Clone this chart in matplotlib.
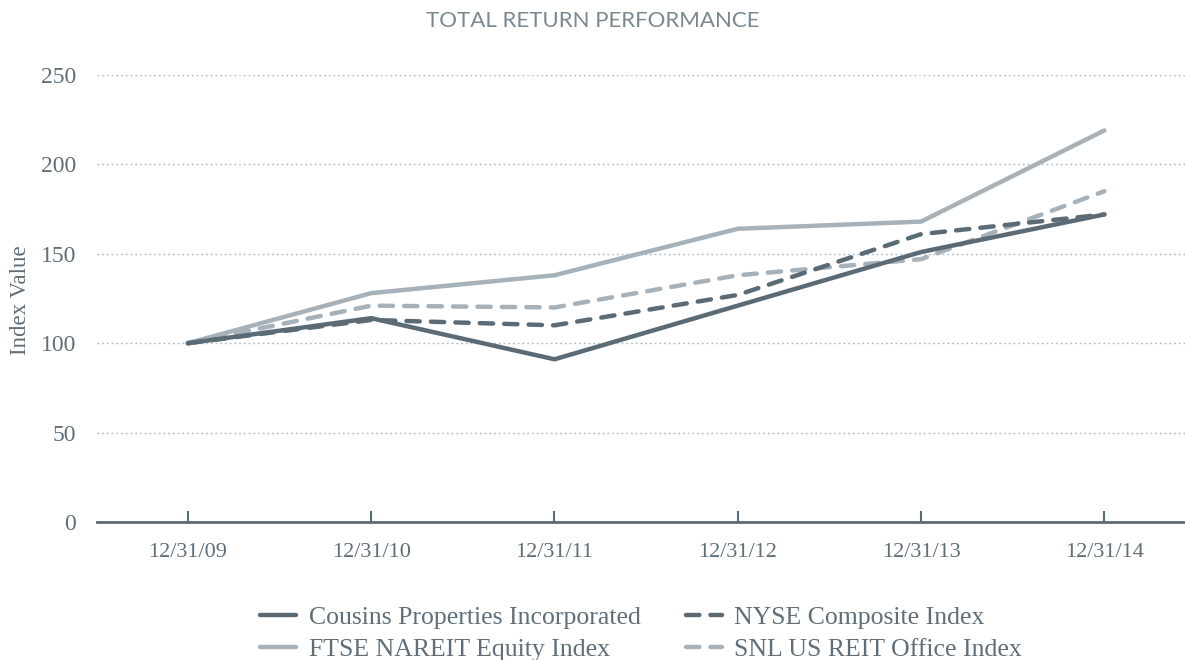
import numpy as np
import matplotlib.pyplot as plt

dates = ["12/31/09", "12/31/10", "12/31/11", "12/31/12", "12/31/13", "12/31/14"]
cousins = [100, 114, 91, 121, 151, 172]
nyse = [100, 113, 110, 127, 161, 172]
ftse = [100, 128, 138, 164, 168, 219]
snl = [100, 121, 120, 138, 147, 185]

dark = '#5b6b76'
light = '#a6b1b9'
text_col = '#5f6e78'
serif = ['Liberation Serif', 'DejaVu Serif']

fig = plt.figure(figsize=(11.85, 6.6), dpi=100)
ax = fig.add_axes([97/1185, 1-522/660, 1-97/1185, (522-75)/660])

x = np.arange(len(dates))
ax.plot(x, ftse, color=light, lw=3.2, solid_capstyle='round', label='FTSE NAREIT Equity Index', zorder=3)
ax.plot(x, snl, color=light, lw=3.2, ls=(0, (3, 2.5)), dash_capstyle='round', label='SNL US REIT Office Index', zorder=4)
ax.plot(x, nyse, color=dark, lw=3.2, ls=(0, (3, 2.5)), dash_capstyle='round', label='NYSE Composite Index', zorder=5)
ax.plot(x, cousins, color=dark, lw=3.2, solid_capstyle='round', label='Cousins Properties Incorporated', zorder=6)

ax.set_xlim(-0.496, 5.44)
ax.set_ylim(0, 250)
ax.set_yticks([0, 50, 100, 150, 200, 250])
ax.set_xticks(x)
ax.set_xticklabels(dates)
ax.grid(axis='y', color='#a9b5bd', ls=(0, (1.2, 2.2)), lw=1)
ax.set_axisbelow(True)
for s in ['top', 'right', 'left']:
    ax.spines[s].set_visible(False)
ax.spines['bottom'].set_color(dark)
ax.spines['bottom'].set_linewidth(2)
ax.tick_params(axis='x', direction='in', length=8, width=1.5, color=dark, pad=15)
ax.tick_params(axis='y', length=0, pad=15)
for lab in ax.get_xticklabels() + ax.get_yticklabels():
    lab.set_family(serif)
    lab.set_color(text_col)
for lab in ax.get_xticklabels():
    lab.set_fontsize(16)
for lab in ax.get_yticklabels():
    lab.set_fontsize(17)

fig.text(0.017, 1-300/660, 'Index Value', rotation=90, ha='center', va='center',
         family=serif, fontsize=16.5, color=text_col)
fig.text(0.5, 1-21/660, 'TOTAL RETURN PERFORMANCE', ha='center', va='center',
         family=['Lato', 'DejaVu Sans'], fontsize=16, color='#7a8892')

h, l = ax.get_legend_handles_labels()
order = [3, 0, 2, 1]
leg = ax.legend([h[i] for i in order], [l[i] for i in order], ncol=2, loc='upper center',
                bbox_to_anchor=(0.5, -0.147), frameon=False, handlelength=1.4,
                handletextpad=0.5, columnspacing=1.75, labelspacing=0.36,
                borderpad=0.2, prop={'family': serif, 'size': 18.5})
for t in leg.get_texts():
    t.set_color(text_col)

fig.savefig('out.png', dpi=100)
